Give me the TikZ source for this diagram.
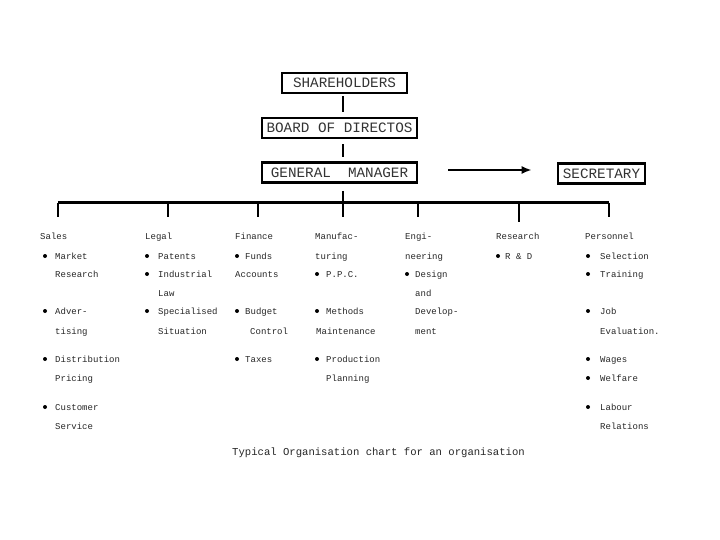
\documentclass[tikz,border=0pt]{standalone}
\usepackage{fontspec}
\setmainfont{Liberation Mono}
\usetikzlibrary{arrows.meta}
\newcommand{\orgline}[4]{\node[txt] (#1) at (#2,#3+3) {#4};}
\newcommand{\orgitem}[5]{\node[bul] (#1b) at (#2,#4) {};\node[txt] (#1) at (#3,#4+3) {#5};}
\begin{document}
\begin{tikzpicture}[x=1pt,y=-1pt,
  box/.style={draw, line width=2.6pt, inner sep=0pt, minimum height=20pt, font=\fontsize{14.3}{15}\selectfont, text=black!80},
  txt/.style={anchor=base west, inner sep=0pt, font=\fontsize{9}{10}\selectfont, text=black!85},
  bul/.style={circle, fill=black, inner sep=0pt, minimum size=4pt},
  conn/.style={line width=2pt},
  bus/.style={line width=3pt},
  arr/.style={line width=2pt, -{Latex[length=10pt,width=8pt]}}]
\useasboundingbox (0,0) rectangle (720,540);
% boxes
\node[box, minimum width=125pt] (sh) at (344.5,83) {SHAREHOLDERS};
\node[box, minimum width=155pt] (bd) at (339.5,128) {BOARD OF DIRECTOS};
\node[box, minimum width=155pt] (gm) at (339.5,172.5) {GENERAL\ \ MANAGER};
\node[box, minimum width=87pt] (sec) at (601.5,173.5) {SECRETARY};
\coordinate (trunk) at (343,0);
\draw[conn, shorten <=2pt, shorten >=5pt] (sh.south -| trunk) -- (bd.north -| trunk);
\draw[conn, shorten <=5pt, shorten >=4pt] (bd.south -| trunk) -- (gm.north -| trunk);
\draw[arr, shorten <=30pt, shorten >=25pt] ([yshift=2.5pt]gm.east) -- ([yshift=2.5pt]gm.east -| sec.west);
% bus
\coordinate (busL) at (58,203);
\coordinate (busR) at (609,203);
\draw[conn, shorten <=7pt] (gm.south -| trunk) -- (busL -| trunk);
\draw[bus] (busL) -- (busR);
\foreach \n/\x in {d1/58,d2/168,d3/258,d4/343,d5/418,d7/609}{
  \coordinate (\n) at (\x,217);
  \draw[conn] (\n |- busL) -- (\n);
}
\coordinate (d6) at (519,222);
\draw[line width=2.6pt] (d6 |- busL) -- (d6);
% Sales
\orgline{sa}{40}{237}{Sales}
\orgitem{sa1}{45}{55}{256}{Market}
\orgline{sa2}{55}{274}{Research}
\orgitem{sa3}{45}{55}{311}{Adver-}
\orgline{sa4}{55}{331}{tising}
\orgitem{sa5}{45}{55}{359}{Distribution}
\orgline{sa6}{55}{378}{Pricing}
\orgitem{sa7}{45}{55}{407}{Customer}
\orgline{sa8}{55}{426}{Service}
% Legal
\orgline{le}{145}{237}{Legal}
\orgitem{le1}{147}{158}{256}{Patents}
\orgitem{le2}{147}{158}{274}{Industrial}
\orgline{le3}{158}{293}{Law}
\orgitem{le4}{147}{158}{311}{Specialised}
\orgline{le5}{158}{331}{Situation}
% Finance
\orgline{fi}{235}{237}{Finance}
\orgitem{fi1}{237}{245}{256}{Funds}
\orgline{fi2}{235}{274}{Accounts}
\orgitem{fi3}{237}{245}{311}{Budget}
\orgline{fi4}{250}{331}{Control}
\orgitem{fi5}{237}{245}{359}{Taxes}
% Manufacturing
\orgline{ma}{315}{237}{Manufac-}
\orgline{maa}{315}{256}{turing}
\orgitem{ma1}{317}{326}{274}{P.P.C.}
\orgitem{ma2}{317}{326}{311}{Methods}
\orgline{ma3}{316}{331}{Maintenance}
\orgitem{ma4}{317}{326}{359}{Production}
\orgline{ma5}{326}{378}{Planning}
% Engineering
\orgline{en}{405}{237}{Engi-}
\orgline{ena}{405}{256}{neering}
\orgitem{en1}{407}{415}{274}{Design}
\orgline{en2}{415}{293}{and}
\orgline{en3}{415}{311}{Develop-}
\orgline{en4}{415}{331}{ment}
% Research
\orgline{re}{496}{237}{Research}
\orgitem{re1}{498}{505}{256}{R \& D}
% Personnel
\orgline{pe}{585}{237}{Personnel}
\orgitem{pe1}{588}{600}{256}{Selection}
\orgitem{pe2}{588}{600}{274}{Training}
\orgitem{pe3}{588}{600}{311}{Job}
\orgline{pe4}{600}{331}{Evaluation.}
\orgitem{pe5}{588}{600}{359}{Wages}
\orgitem{pe6}{588}{600}{378}{Welfare}
\orgitem{pe7}{588}{600}{407}{Labour}
\orgline{pe8}{600}{426}{Relations}
% caption
\node[anchor=base west, inner sep=0pt, font=\fontsize{10.6}{12}\selectfont, text=black!85] (cap) at (232,455) {Typical Organisation chart for an organisation};
\end{tikzpicture}
\end{document}
